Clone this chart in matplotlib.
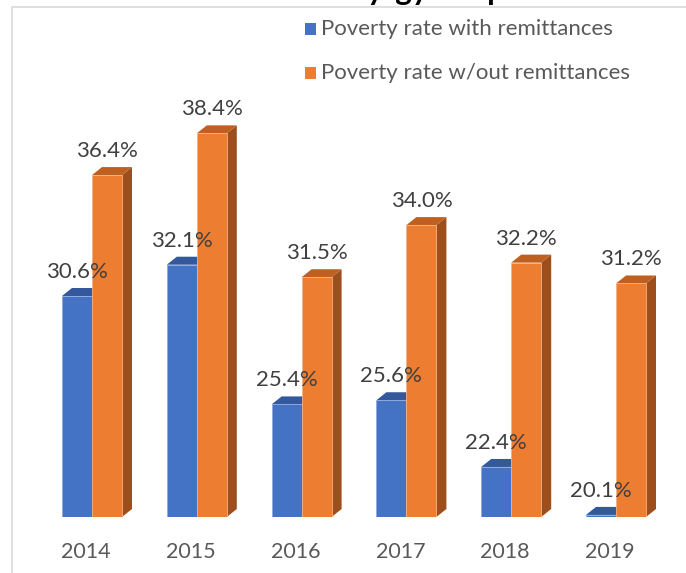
import matplotlib.pyplot as plt
from matplotlib.patches import Polygon, Rectangle

years = ['2014', '2015', '2016', '2017', '2018', '2019']
with_remit = [30.6, 32.1, 25.4, 25.6, 22.4, 20.1]
without_remit = [36.4, 38.4, 31.5, 34.0, 32.2, 31.2]

W, H = 686, 573
fig = plt.figure(figsize=(W / 100, H / 100), dpi=100)
plt.rcParams['font.family'] = ['Lato', 'DejaVu Sans']

# axes placed so 1 category = 104.8 px, 1 % = 20.85 px
ax = fig.add_axes([0, (H - 517) / H, 1, 417 / H])
ax.set_xlim(-92 / 104.8, (W - 92) / 104.8)
ax.set_ylim(20, 40)
ax.axis('off')

base = 20
w = 30 / 104.8          # bar width
dx = 10 / 104.8         # depth offset x
dy = 8 / 20.85          # depth offset y

front = {'blue': '#4472C4', 'orange': '#ED7D31'}
top = {'blue': '#34589C', 'orange': '#BF6020'}
side = {'blue': '#2C4C86', 'orange': '#9C4F1D'}


def bar3d(x0, v, c):
    ax.add_patch(Polygon([(x0 + w, base), (x0 + w + dx, base + dy),
                          (x0 + w + dx, v + dy), (x0 + w, v)],
                         closed=True, fc=side[c], ec='none', zorder=2))
    ax.add_patch(Polygon([(x0, v), (x0 + w, v), (x0 + w + dx, v + dy),
                          (x0 + dx, v + dy)],
                         closed=True, fc=top[c], ec='none', zorder=2))


for i in range(len(years)):
    bar3d(i - w, with_remit[i], 'blue')
    ax.bar(i - w / 2, with_remit[i] - base, bottom=base, width=w,
           color=front['blue'], edgecolor='#8FAADC', linewidth=0.6, zorder=3)
    bar3d(i, without_remit[i], 'orange')
    ax.bar(i + w / 2, without_remit[i] - base, bottom=base, width=w,
           color=front['orange'], edgecolor='#F4B183', linewidth=0.6, zorder=4)

    ax.annotate(f'{with_remit[i]:.1f}%', (i - w / 2, with_remit[i] + dy),
                xytext=(0, 6), textcoords='offset pixels', ha='center',
                va='bottom', fontsize=16, color='#404040', zorder=5)
    ax.annotate(f'{without_remit[i]:.1f}%', (i + w / 2, without_remit[i] + dy),
                xytext=(0, 6), textcoords='offset pixels', ha='center',
                va='bottom', fontsize=16, color='#404040', zorder=5)

# year labels
for i, yr in enumerate(years):
    ax.annotate(yr, (i - 0.057, base), xytext=(0, -35),
                textcoords='offset pixels', ha='center', va='center',
                fontsize=15.5, color='#595959')

# legend
labels = ['Poverty rate with remittances', 'Poverty rate w/out remittances']
for k, (lab, c) in enumerate(zip(labels, ['blue', 'orange'])):
    yc = 29 + 44 * k
    fig.add_artist(Rectangle((305 / W, 1 - (yc + 6) / H), 11 / W, 12 / H,
                             transform=fig.transFigure, fc=front[c], ec='none'))
    fig.text(321 / W, 1 - yc / H, lab, ha='left', va='center',
             fontsize=16, color='#595959')

# chart border (cut off at right and bottom)
fig.add_artist(Rectangle((12 / W, -0.05), 1.1, 1.05 - 7 / H,
                         transform=fig.transFigure, fill=False,
                         ec='#D9D9D9', lw=1.2))

# title, mostly cut off at the top
fig.text(372 / W, 1 - 5 / H, 'Remittances and Poverty\nRates in the Kyrgyz Republic',
         ha='center', va='bottom', fontsize=22.5, fontweight='bold', color='black')

fig.savefig('out.png', dpi=100)
